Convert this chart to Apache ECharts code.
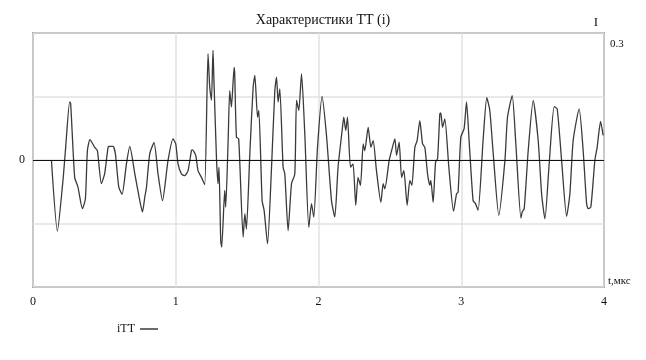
<!DOCTYPE html>
<html>
<head>
<meta charset="utf-8">
<script src="https://cdn.jsdelivr.net/npm/echarts@6/dist/echarts.min.js"></script>
<style>html,body{margin:0;padding:0;background:#fff;}#c{width:646px;height:360px;}</style>
</head>
<body>
<div id="c"></div>
<script>
var titleText = 'Характеристики ТТ (i)';
var seriesName = 'iТТ';
var xTicks = [0, 1, 2, 3, 4];
var tValues = [0.129,0.171,0.210,0.227,0.257,0.264,0.292,0.315,0.346,0.367,0.381,0.399,0.432,0.451,0.479,0.502,0.526,0.537,0.561,0.577,0.601,0.624,0.655,0.678,0.713,0.748,0.767,0.783,0.795,0.818,0.848,0.876,0.907,0.946,0.981,1.000,1.016,1.040,1.063,1.086,1.110,1.117,1.140,1.156,1.180,1.203,1.226,1.238,1.250,1.261,1.266,1.285,1.296,1.303,1.315,1.322,1.343,1.350,1.367,1.378,1.390,1.409,1.413,1.425,1.441,1.472,1.484,1.495,1.519,1.542,1.554,1.573,1.582,1.605,1.619,1.643,1.671,1.694,1.706,1.717,1.729,1.752,1.764,1.787,1.811,1.834,1.846,1.862,1.881,1.904,1.932,1.951,1.967,1.993,2.025,2.056,2.091,2.114,2.137,2.168,2.177,2.191,2.203,2.224,2.242,2.261,2.277,2.294,2.313,2.324,2.348,2.367,2.383,2.406,2.437,2.453,2.465,2.495,2.512,2.535,2.547,2.565,2.582,2.598,2.621,2.640,2.654,2.675,2.691,2.710,2.729,2.745,2.764,2.780,2.787,2.803,2.820,2.834,2.850,2.857,2.869,2.885,2.913,2.946,2.967,2.978,2.997,3.020,3.037,3.055,3.083,3.100,3.118,3.153,3.179,3.200,3.224,3.263,3.306,3.324,3.357,3.381,3.418,3.427,3.441,3.469,3.504,3.539,3.563,3.586,3.616,3.651,3.672,3.703,3.738,3.761,3.784,3.826,3.854,3.878,3.889,3.908,3.936,3.952,3.976,3.994];
var iValues = [0,-0.168,-0.048,0.022,0.137,0.133,-0.041,-0.064,-0.115,-0.092,0.022,0.048,0.030,0.022,-0.056,-0.032,0.030,0.032,0.032,0.015,-0.064,-0.081,-0.008,0.032,-0.032,-0.096,-0.123,-0.088,-0.064,0.015,0.041,-0.033,-0.096,-0.001,0.050,0.038,-0.009,-0.033,-0.037,-0.025,0.022,0.024,0.011,-0.025,-0.041,-0.058,0.251,0.172,0.141,0.259,0.204,0.007,-0.056,-0.017,-0.190,-0.206,-0.072,-0.111,0.046,0.164,0.125,0.219,0.204,0.054,0.050,-0.182,-0.127,-0.163,0.015,0.172,0.200,0.101,0.117,-0.096,-0.119,-0.198,-0.017,0.164,0.196,0.137,0.168,-0.017,-0.033,-0.167,-0.056,-0.033,0.141,0.117,0.204,0.062,-0.159,-0.103,-0.135,0.030,0.150,0.058,-0.096,-0.135,-0.017,0.077,0.101,0.070,0.101,-0.017,-0.009,-0.107,-0.041,-0.060,0.038,0.022,0.077,0.030,0.046,-0.025,-0.100,-0.056,-0.068,-0.001,0.022,0.050,0.011,0.042,-0.041,-0.025,-0.107,-0.048,-0.060,0.030,0.046,0.093,0.038,0.030,-0.033,-0.060,-0.048,-0.100,-0.005,0.003,0.109,0.111,0.077,0.097,-0.017,-0.121,-0.080,-0.076,0.054,0.074,0.137,0.046,-0.096,-0.103,-0.119,0.046,0.147,0.117,0.015,-0.131,-0.001,0.101,0.152,0.046,-0.137,-0.123,-0.115,0.022,0.141,0.046,-0.080,-0.139,-0.009,0.126,0.121,-0.001,-0.133,-0.080,0.046,0.121,0.022,-0.103,-0.115,-0.111,-0.001,0.030,0.091,0.058];
var yMin = -0.3, yMax = 0.3, yStep = 0.15;

var data = tValues.map(function (t, k) { return [t, iValues[k]]; });
var serif = 'Liberation Serif';

var chart = echarts.init(document.getElementById('c'), null, {renderer: 'canvas'});
chart.setOption({
  animation: false,
  backgroundColor: '#ffffff',
  title: {
    text: titleText, left: 'center', top: 8,
    textStyle: {fontFamily: serif, fontSize: 14, fontWeight: 'normal', color: '#111'}
  },
  legend: {
    data: [seriesName], left: 112, top: 318, align: 'right',
    icon: 'rect', itemWidth: 18, itemHeight: 1.5, itemGap: 4,
    textStyle: {fontFamily: serif, fontSize: 12, color: '#111', padding: [0, 0, 0, 0]}
  },
  grid: {left: 33, right: 42, top: 33, bottom: 73, show: true, borderColor: '#555', borderWidth: 1.5, backgroundColor: '#fff'},
  xAxis: {
    type: 'value', min: xTicks[0], max: xTicks[xTicks.length - 1], interval: 1,
    name: 't,мкс', nameLocation: 'end', nameGap: 4,
    nameTextStyle: {fontFamily: serif, fontSize: 11, color: '#111', verticalAlign: 'bottom', padding: [0, 0, 0, 0]},
    axisLine: {show: false, onZero: false}, axisTick: {show: false},
    axisLabel: {fontFamily: serif, fontSize: 12, color: '#111', margin: 9},
    splitLine: {show: true, lineStyle: {color: '#e2e2e2', width: 1.5}}
  },
  yAxis: [{
    type: 'value', min: yMin, max: yMax, interval: yStep, position: 'left',
    axisLine: {show: false, onZero: false}, axisTick: {show: false},
    axisLabel: {fontFamily: serif, fontSize: 12, color: '#111', margin: 8,
      formatter: function (v) { return Math.abs(v) < 1e-9 ? '0' : ''; }},
    splitLine: {show: true, lineStyle: {color: '#e2e2e2', width: 1.5}}
  }, {
    type: 'value', min: yMin, max: yMax, interval: 0.3, position: 'right',
    name: 'I', nameLocation: 'end', nameGap: 4,
    nameTextStyle: {fontFamily: serif, fontSize: 13, color: '#111', align: 'right', padding: [0, 6, 0, 0]},
    axisLine: {show: false, onZero: false}, axisTick: {show: false}, splitLine: {show: false},
    axisLabel: {fontFamily: serif, fontSize: 11, color: '#111', margin: 6, verticalAlign: 'top', padding: [6, 0, 0, 0],
      formatter: function (v) { return Math.abs(v - 0.3) < 1e-9 ? '0.3' : ''; }}
  }],
  series: [{
    name: seriesName, type: 'line', data: data, showSymbol: false, smooth: 0.2,
    lineStyle: {color: '#3a3a3a', width: 1.3}, itemStyle: {color: '#3a3a3a'},
    markLine: {
      silent: true, symbol: 'none', label: {show: false},
      lineStyle: {color: '#111', width: 1, type: 'solid'},
      data: [{yAxis: 0}]
    }
  }]
});
</script>
</body>
</html>
